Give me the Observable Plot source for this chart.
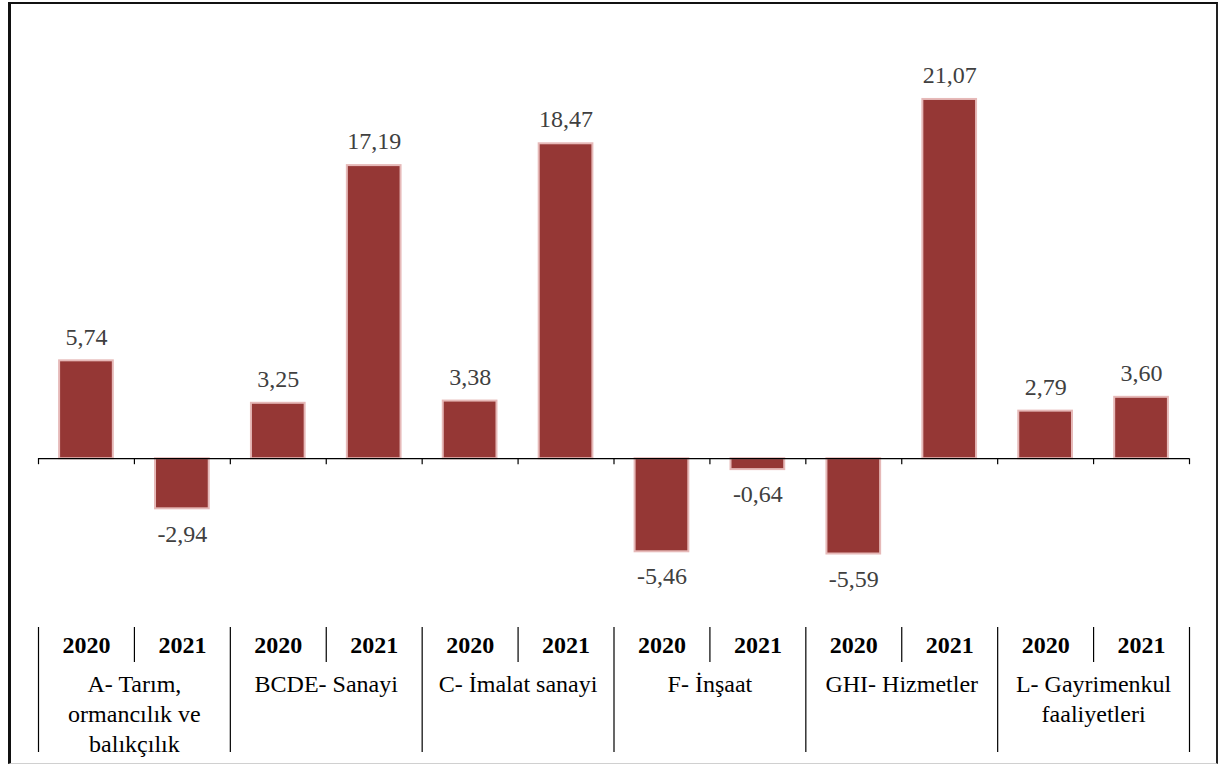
<!DOCTYPE html>
<html>
<head>
<meta charset="utf-8">
<script src="https://cdn.jsdelivr.net/npm/d3@7"></script>
<script src="https://cdn.jsdelivr.net/npm/@observablehq/plot@0.6"></script>
<style>
  body { margin: 0; background: #fff; }
  #wrap { position: relative; width: 1219px; height: 765px; overflow: hidden; }
  #wrap svg { display: block; }
  #border {
    position: absolute; left: 8px; top: 2px; right: 1px; bottom: 1px;
    box-sizing: border-box;
    border-left: 3px solid #111; border-top: 2px solid #111;
    border-right: 2px solid #222; border-bottom: 1px solid #d0d0d0;
    pointer-events: none; z-index: 2;
  }
</style>
</head>
<body>
<div id="wrap"><div id="border"></div></div>
<script>
// Sectors and yearly growth values (%)
const sectors = [
  "A- Tarım,\normancılık ve\nbalıkçılık",
  "BCDE- Sanayi",
  "C- İmalat sanayi",
  "F- İnşaat",
  "GHI- Hizmetler",
  "L- Gayrimenkul\nfaaliyetleri"
];
const years = ["2020", "2021"];
const values2020 = [5.74, 3.25, 3.38, -5.46, -5.59, 2.79];
const values2021 = [-2.94, 17.19, 18.47, -0.64, 21.07, 3.60];

// One row per sector/year bar
const rows = [];
sectors.forEach((sector, i) => {
  [values2020[i], values2021[i]].forEach((value, j) => {
    rows.push({key: `${i}-${years[j]}`, sector, year: years[j], value});
  });
});
const keys = rows.map(d => d.key);
const groups = sectors.map((sector, i) => ({sector, key: `${i}-${years[1]}`}));

// Turkish decimal comma
const fmt = v => v.toFixed(2).replace(".", ",");

const W = 1219, ML = 38, MR = 30;
const step = (W - ML - MR) / keys.length;
const xScale = {type: "band", domain: keys, paddingInner: 0.44, paddingOuter: 0.22, round: false, axis: null};
const font = "Liberation Serif";
const fs = 24;

// Bar chart with zero baseline and boundary ticks
const H1 = 627, MT = 49;
const yDomain = [-9.9, 24];
const pxPerUnit = (H1 - MT) / (yDomain[1] - yDomain[0]);
const tickLen = 6 / pxPerUnit;

const chart = Plot.plot({
  width: W, height: H1,
  marginLeft: ML, marginRight: MR, marginTop: MT, marginBottom: 0,
  x: xScale,
  y: {domain: yDomain, axis: null},
  style: {fontFamily: font, fontSize: `${fs}px`, background: "transparent", overflow: "visible"},
  marks: [
    Plot.barY(rows, {x: "key", y: "value", fill: "#953735", stroke: "#e6b9b8", strokeWidth: 2}),
    Plot.ruleY([0], {stroke: "#000", strokeWidth: 1.2}),
    Plot.ruleX(keys, {x: d => d, y1: 0, y2: -tickLen, dx: -step / 2, stroke: "#000", strokeWidth: 1.2}),
    Plot.ruleX([keys[keys.length - 1]], {x: d => d, y1: 0, y2: -tickLen, dx: step / 2, stroke: "#000", strokeWidth: 1.2}),
    Plot.text(rows.filter(d => d.value >= 0), {
      x: "key", y: "value", text: d => fmt(d.value), dy: -24,
      fill: "#404040", fontSize: fs, fontFamily: font
    }),
    Plot.text(rows.filter(d => d.value < 0), {
      x: "key", y: "value", text: d => fmt(d.value), dy: 25,
      fill: "#404040", fontSize: fs, fontFamily: font
    })
  ]
});

// Category table under the bars: years, sector names and separators
const H2 = 138, MB2 = 13;
const shortInset = (H2 - MB2) - 35;
const table = Plot.plot({
  width: W, height: H2,
  marginLeft: ML, marginRight: MR, marginTop: 0, marginBottom: MB2,
  x: xScale,
  style: {fontFamily: font, fontSize: `${fs}px`, background: "transparent", overflow: "visible"},
  marks: [
    Plot.ruleX(keys.filter((k, i) => i % 2 === 0), {x: d => d, dx: -step / 2, stroke: "#000", strokeWidth: 1.2}),
    Plot.ruleX([keys[keys.length - 1]], {x: d => d, dx: step / 2, stroke: "#000", strokeWidth: 1.2}),
    Plot.ruleX(keys.filter((k, i) => i % 2 === 1), {x: d => d, dx: -step / 2, insetBottom: shortInset, stroke: "#000", strokeWidth: 1.2}),
    Plot.text(rows, {
      x: "key", text: "year", frameAnchor: "top", lineAnchor: "bottom", dy: 25,
      fontWeight: "bold", fill: "#000", fontSize: fs, fontFamily: font
    }),
    Plot.text(groups, {
      x: "key", text: "sector", frameAnchor: "top", lineAnchor: "top",
      dy: 43, dx: -step / 2, lineHeight: 1.25,
      fill: "#000", fontSize: fs, fontFamily: font
    })
  ]
});

const wrap = document.getElementById("wrap");
wrap.appendChild(chart);
wrap.appendChild(table);
</script>
</body>
</html>
